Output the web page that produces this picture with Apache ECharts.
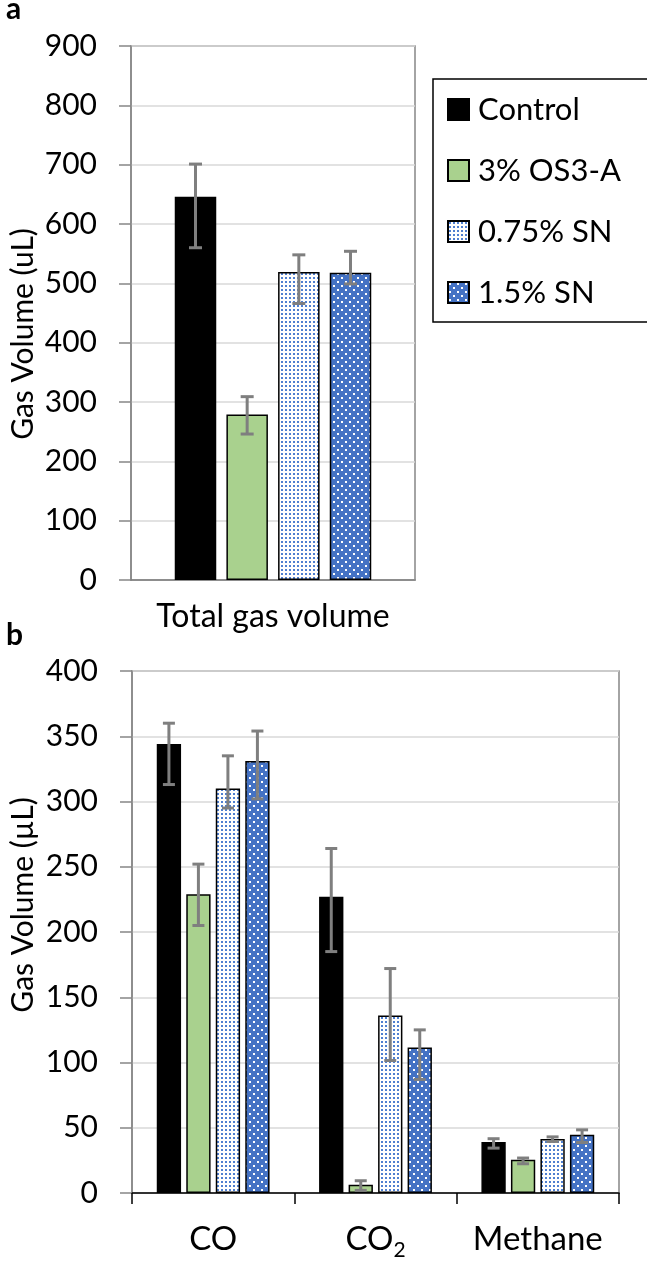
<!DOCTYPE html>
<html><head><meta charset="utf-8">
<script src="https://cdn.jsdelivr.net/npm/echarts@6/dist/echarts.min.js"></script>
<style>html,body{margin:0;padding:0;background:#fff}#c{width:647px;height:1262px}</style>
</head><body><div id="c"></div>
<script>
// ---------- data ----------
const seriesNames = ['Control', '3% OS3-A', '0.75% SN', '1.5% SN'];
const catsA = ['Total gas volume'];
const catsB = ['CO', 'CO2', 'Methane'];

// panel a: total gas volume (one value per treatment)
const totalMean = [646, 279, 519, 518];
const totalLow  = [560, 246, 466, 499];
const totalHigh = [701, 309, 548, 554];

// panel b: per treatment, values for CO, CO2, Methane
const controlB     = [344, 227, 39];
const controlBLow  = [313, 185, 34.4];
const controlBHigh = [360, 264, 41.6];
const os3aB        = [229, 6.4, 25.5];
const os3aBLow     = [205, 2, 22.4];
const os3aBHigh    = [252, 9.4, 26.8];
const sn075B       = [310, 136, 41.3];
const sn075BLow    = [295, 101.5, 39.5];
const sn075BHigh   = [335, 172, 43];
const sn15B        = [331, 111.5, 44.6];
const sn15BLow     = [302, 87, 38.7];
const sn15BHigh    = [354, 125, 48.4];

// ---------- patterns ----------
function makePattern(bg, fg, size, dots, d) {
  const c = document.createElement('canvas');
  c.width = size; c.height = size;
  const g = c.getContext('2d');
  g.fillStyle = bg; g.fillRect(0, 0, size, size);
  g.fillStyle = fg;
  dots.forEach(function (p) { g.fillRect(p[0], p[1], d, d); });
  return { image: c, repeat: 'repeat' };
}
const lightPat = makePattern('#ffffff', '#4f7fd0', 4, [[1, 1]], 2);
const bluePat = makePattern('#4472C4', '#ffffff', 8, [[1, 1], [5, 5]], 2);

const fills = ['#000000', '#A9D18E', lightPat, bluePat];
const FONT = 'Lato';

const bListsMean = [controlB, os3aB, sn075B, sn15B];
const bListsLow = [controlBLow, os3aBLow, sn075BLow, sn15BLow];
const bListsHigh = [controlBHigh, os3aBHigh, sn075BHigh, sn15BHigh];

// ---------- error bars ----------
function errRender(step, cap) {
  return function (params, api) {
    const ci = api.value(0), si = api.value(1);
    const lo = api.coord([ci, api.value(2)]);
    const hi = api.coord([ci, api.value(3)]);
    const x = lo[0] + (si - 1.5) * step;
    const st = { stroke: '#7f7f7f', lineWidth: 3 };
    return {
      type: 'group', children: [
        { type: 'line', shape: { x1: x, y1: hi[1], x2: x, y2: lo[1] }, style: st },
        { type: 'line', shape: { x1: x - cap / 2, y1: hi[1], x2: x + cap / 2, y2: hi[1] }, style: st },
        { type: 'line', shape: { x1: x - cap / 2, y1: lo[1], x2: x + cap / 2, y2: lo[1] }, style: st }
      ]
    };
  };
}
const errA = seriesNames.map(function (n, i) { return [0, i, totalLow[i], totalHigh[i]]; });
const errB = [];
catsB.forEach(function (c, ci) {
  seriesNames.forEach(function (n, si) { errB.push([ci, si, bListsLow[si][ci], bListsHigh[si][ci]]); });
});

const BW_A = 41.5, GAP_A = 0.245;
const BW_B = 24.3, GAP_B = 0.214;

const series = [];
seriesNames.forEach(function (n, i) {
  series.push({
    name: n, type: 'bar', xAxisIndex: 0, yAxisIndex: 0,
    barWidth: BW_A, barGap: (GAP_A * 100) + '%',
    data: [totalMean[i]], itemStyle: { color: fills[i], borderColor: '#000', borderWidth: 1.5 }, silent: true
  });
});
seriesNames.forEach(function (n, i) {
  series.push({
    name: n, type: 'bar', xAxisIndex: 1, yAxisIndex: 1,
    barWidth: BW_B, barGap: (GAP_B * 100) + '%',
    data: bListsMean[i], itemStyle: { color: fills[i], borderColor: '#000', borderWidth: 1.5 }, silent: true
  });
});
series.push({
  type: 'custom', name: 'errA', xAxisIndex: 0, yAxisIndex: 0, z: 5, silent: true,
  encode: { x: 0, y: [2, 3] },
  renderItem: errRender(BW_A * (1 + GAP_A), 13), data: errA
});
series.push({
  type: 'custom', name: 'errB', xAxisIndex: 1, yAxisIndex: 1, z: 5, silent: true,
  encode: { x: 0, y: [2, 3] },
  renderItem: errRender(BW_B * (1 + GAP_B), 12), data: errB
});

const GRAY = '#878787';
const yCommon = {
  type: 'value', min: 0,
  axisLine: { show: true, lineStyle: { color: GRAY, width: 1.5 } },
  axisTick: { show: true, inside: false, length: 12, lineStyle: { color: GRAY, width: 1.5 } },
  splitLine: { show: true, lineStyle: { color: '#d9d9d9', width: 1.5 } },
  axisLabel: { fontSize: 30, color: '#000', margin: 34, fontFamily: FONT }
};

const option = {
  animation: false,
  backgroundColor: '#fff',
  textStyle: { fontFamily: FONT, color: '#000' },
  grid: [
    { left: 131, top: 46, width: 284, height: 534, show: true, borderColor: GRAY, borderWidth: 1.5 },
    { left: 132, top: 671, width: 487, height: 522, show: true, borderColor: GRAY, borderWidth: 1.5 }
  ],
  legend: {
    data: seriesNames, orient: 'vertical', left: 433, top: 79,
    padding: [15, 34, 14, 14], itemGap: 30, itemWidth: 21, itemHeight: 21,
    icon: 'rect', borderColor: '#000', borderWidth: 1.5, selectedMode: false,
    textStyle: { fontSize: 31, lineHeight: 31, color: '#000', fontFamily: FONT, padding: [0, 0, 0, 4] }
  },
  xAxis: [
    {
      type: 'category', gridIndex: 0, data: catsA,
      axisLine: { show: true, lineStyle: { color: '#7a7a7a', width: 1.5 } },
      axisTick: { show: false },
      axisLabel: { fontSize: 32, color: '#000', margin: 21, fontFamily: FONT, interval: 0 }
    },
    {
      type: 'category', gridIndex: 1, data: catsB,
      axisLine: { show: true, lineStyle: { color: '#000', width: 1.5 } },
      axisTick: { show: true, length: 11, lineStyle: { color: '#000', width: 1.5 } },
      axisLabel: {
        fontSize: 33, color: '#000', margin: 24, lineHeight: 44, fontFamily: FONT, interval: 0, hideOverlap: false,
        formatter: function (v) { return v === 'CO2' ? '{m|CO}{sub|2}' : '{m|' + v + '}'; },
        rich: {
          m: { fontSize: 33, lineHeight: 44, color: '#000', fontFamily: FONT },
          sub: { fontSize: 21, lineHeight: 24, padding: [14, 0, 0, 0], verticalAlign: 'bottom', color: '#000', fontFamily: FONT }
        }
      }
    }
  ],
  yAxis: [
    Object.assign({}, yCommon, { gridIndex: 0, max: 900, interval: 100 }),
    Object.assign({}, yCommon, { gridIndex: 1, max: 400, interval: 50 })
  ],
  graphic: [
    { type: 'text', x: 6, y: 9, style: { text: 'a', font: 'bold 30px Lato', fill: '#000', textAlign: 'left', textVerticalAlign: 'middle' } },
    { type: 'text', x: 6, y: 635, style: { text: 'b', font: 'bold 30px Lato', fill: '#000', textAlign: 'left', textVerticalAlign: 'middle' } },
    { type: 'text', x: 23, y: 334, rotation: Math.PI / 2, style: { text: 'Gas Volume (uL)', font: '30px Lato', fill: '#000', textAlign: 'center', textVerticalAlign: 'middle' } },
    { type: 'text', x: 23, y: 905, rotation: Math.PI / 2, style: { text: 'Gas Volume (µL)', font: '30px Lato', fill: '#000', textAlign: 'center', textVerticalAlign: 'middle' } }
  ],
  series: series
};

const chart = echarts.init(document.getElementById('c'), null, { renderer: 'canvas' });
chart.setOption(option);
</script>
</body></html>
